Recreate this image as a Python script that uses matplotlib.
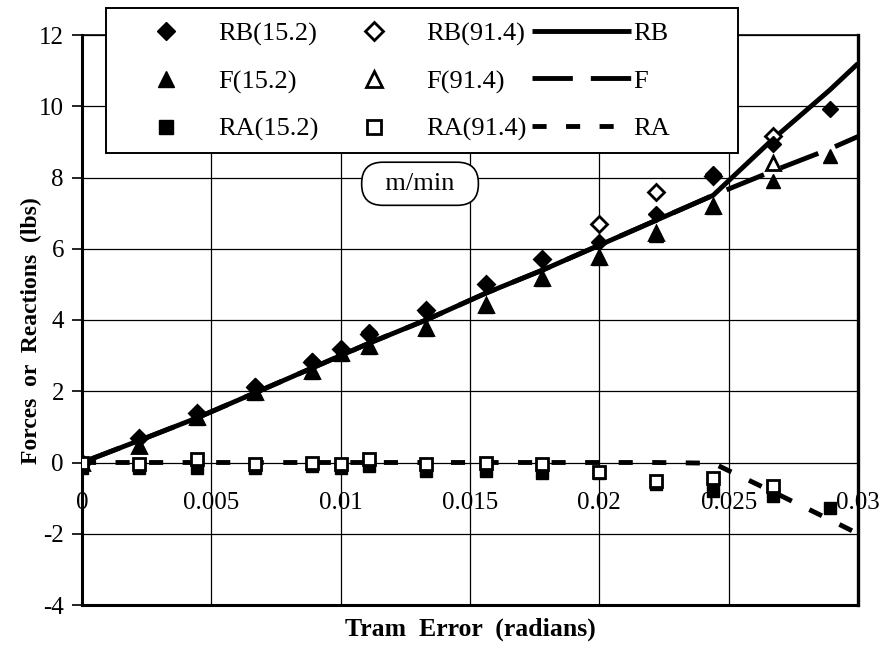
import matplotlib
matplotlib.use("Agg")
import matplotlib.pyplot as plt
from matplotlib.patches import Rectangle

plt.rcParams['font.family'] = ['Liberation Serif', 'DejaVu Serif']

# measured tram error (radians)
x_pts = [0, 0.00222, 0.00444, 0.00667, 0.00889, 0.0100, 0.0111, 0.0133,
         0.0156, 0.0178, 0.0200, 0.0222, 0.0244, 0.0267, 0.0289]

# feed speed 15.2 m/min
rb_152 = [0, 0.70, 1.40, 2.15, 2.85, 3.20, 3.65, 4.25, 5.00, 5.70, 6.20, 6.97, 8.09, 8.93, 9.92]
f_152 = [0, 0.45, 1.25, 1.95, 2.55, 3.05, 3.25, 3.75, 4.40, 5.15, 5.75, 6.40, 7.16, 7.90, 8.60]
ra_152 = [-0.15, -0.15, -0.15, -0.15, -0.10, -0.15, -0.10, -0.25, -0.25, -0.30, -0.30, -0.60, -0.80, -0.95, -1.27]

# feed speed 91.4 m/min
x_pts_914 = x_pts[:14]
rb_914 = [0, 0.68, 1.38, 2.12, 2.82, 3.18, 3.62, 4.28, 5.02, 5.72, 6.70, 7.58, 8.05, 9.16]
f_914 = [0, 0.47, 1.27, 1.97, 2.57, 3.07, 3.27, 3.77, 4.42, 5.17, 5.78, 6.43, 7.19, 8.42]
ra_914 = [0, -0.05, 0.10, -0.05, 0.0, -0.05, 0.10, -0.05, 0.0, -0.05, -0.28, -0.52, -0.43, -0.67]

# model curves
x_line = [0, 0.00222, 0.00444, 0.00667, 0.00889, 0.0100, 0.0111, 0.0133,
          0.0156, 0.0178, 0.0200, 0.0222, 0.0244, 0.0267, 0.0289, 0.0300]
rb_line = [0, 0.62, 1.25, 1.95, 2.65, 3.00, 3.35, 4.00, 4.75, 5.40, 6.10, 6.80, 7.50, 9.07, 10.45, 11.20]
f_line = [0, 0.62, 1.25, 1.95, 2.65, 3.00, 3.35, 4.00, 4.75, 5.40, 6.10, 6.80, 7.50, 8.18, 8.80, 9.15]
ra_line = [0, 0, 0, 0, 0, 0, 0, 0, 0, 0, 0, 0, -0.02, -0.82, -1.60, -2.00]

x_ticks = [0, 0.005, 0.01, 0.015, 0.02, 0.025, 0.03]
x_tick_labels = ['0', '0.005', '0.01', '0.015', '0.02', '0.025', '0.03']
y_ticks = [-4, -2, 0, 2, 4, 6, 8, 10, 12]


def main():
    W, H = 883, 653
    fig = plt.figure(figsize=(W / 100, H / 100), dpi=100)
    ax = fig.add_axes([82 / W, 1 - 605 / H, 776 / W, 570 / H])

    lw = 3.5
    ln_rb, = ax.plot(x_line, rb_line, color='black', lw=lw, solid_capstyle='butt', zorder=3)
    ln_f, = ax.plot(x_line, f_line, color='black', lw=lw, dashes=(8.3, 3.7), zorder=3)
    ln_ra, = ax.plot(x_line, ra_line, color='black', lw=lw, dashes=(2.9, 4.0), zorder=3)

    # open markers for RB/F sit under the filled ones, open squares on top
    kw_open = dict(ls='none', color='black', mfc='white', mew=2)
    m_rb914, = ax.plot(x_pts_914, rb_914, marker='D', ms=8, zorder=4, **kw_open)
    m_f914, = ax.plot(x_pts_914, f_914, marker='^', ms=10, zorder=4, **kw_open)
    kw = dict(ls='none', color='black', mfc='black')
    m_ra152, = ax.plot(x_pts, ra_152, marker='s', ms=9, zorder=4, **kw)
    m_f152, = ax.plot(x_pts, f_152, marker='^', ms=10, zorder=5, **kw)
    m_rb152, = ax.plot(x_pts, rb_152, marker='D', ms=8, zorder=5, **kw)
    m_ra914, = ax.plot(x_pts_914, ra_914, marker='s', ms=9, zorder=5, **kw_open)

    ax.set_xlim(0, 0.03)
    ax.set_ylim(-4, 12)
    ax.set_xticks(x_ticks)
    ax.set_yticks(y_ticks)
    ax.set_yticklabels([str(v) for v in y_ticks])
    ax.grid(True, color='black', lw=0.9)
    ax.set_axisbelow(True)
    ax.tick_params(axis='x', length=0, labelbottom=False)
    ax.tick_params(axis='y', direction='out', length=7, width=1.2, pad=6, labelsize=18)
    for side, w in [('left', 2.2), ('bottom', 2.2), ('right', 2.4), ('top', 1.2)]:
        ax.spines[side].set_linewidth(w)

    # x tick labels sit on the zero line
    sec = ax.secondary_xaxis(0.25)
    sec.set_xticks(x_ticks)
    sec.set_xticklabels(x_tick_labels)
    sec.tick_params(length=0, pad=21, labelsize=18)
    sec.spines['bottom'].set_visible(False)
    sec.spines['top'].set_visible(False)

    ax.set_xlabel('Tram  Error  (radians)', fontsize=18.5, fontweight='bold', labelpad=9)
    ax.set_ylabel('Forces  or  Reactions  (lbs)', fontsize=17, fontweight='bold')
    ax.yaxis.set_label_coords(-0.0515, 0.482)

    ax.text(0.4356, 0.739, '  m/min  ', transform=ax.transAxes, fontsize=19,
            ha='center', va='center', zorder=6,
            bbox=dict(boxstyle='round,pad=0.4,rounding_size=0.8', fc='white', ec='black', lw=1.2))

    # legend box
    fig.patches.append(Rectangle((106 / W, 1 - 153 / H), 632 / W, 145 / H,
                                 transform=fig.transFigure, fc='white', ec='black',
                                 lw=1.4, zorder=9))

    handles = [m_rb152, m_f152, m_ra152, m_rb914, m_f914, m_ra914, ln_rb, ln_f, ln_ra]
    labels = ['RB(15.2)', 'F(15.2)', 'RA(15.2)', 'RB(91.4)', 'F(91.4)', 'RA(91.4)', 'RB', 'F', 'RA']
    leg = fig.legend(handles, labels, ncol=3, loc='upper left',
                     bbox_to_anchor=(116 / W, 1 - 22 / H), fontsize=19,
                     handlelength=3.77, handletextpad=0.1, columnspacing=0.2,
                     labelspacing=0.9, borderpad=0, borderaxespad=0,
                     markerscale=1.15, frameon=False)
    leg.set_zorder(10)

    fig.savefig('out.png', dpi=100)


if __name__ == "__main__":
    main()
